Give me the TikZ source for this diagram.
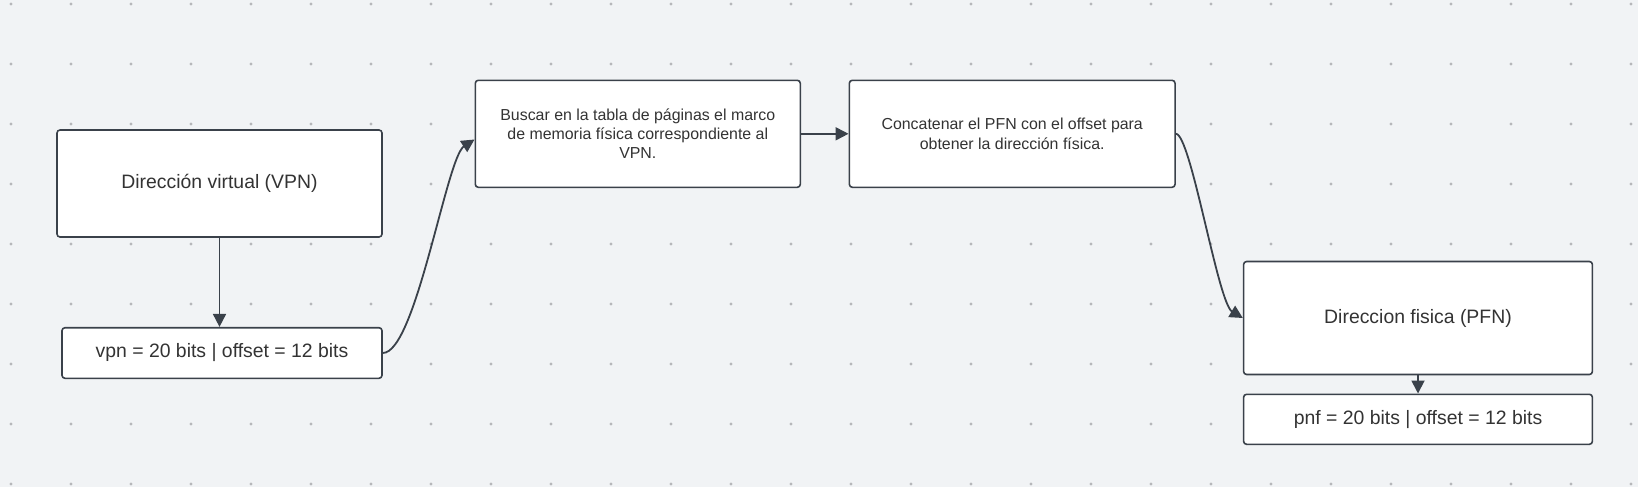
\documentclass[tikz,border=0pt]{standalone}
\usepackage{fontspec}
\setmainfont{Liberation Sans}
\usetikzlibrary{arrows.meta}
\usepackage{xcolor}
\definecolor{canvas}{RGB}{241,243,245}
\definecolor{griddot}{RGB}{182,183,186}
\definecolor{edgegray}{RGB}{58,65,74}
\definecolor{inkgray}{RGB}{51,51,51}

\begin{document}
\begin{tikzpicture}[
        x=1pt, y=-1pt,
        line join=round,
        bigwhitenode/.style={shape=rectangle, rounded corners=3pt, fill=white, draw=edgegray, line width=1.6pt, text=inkgray, inner sep=0pt, font=\fontsize{19.4pt}{23pt}\selectfont},
        smallwhitenode/.style={shape=rectangle, rounded corners=3pt, fill=white, draw=edgegray, line width=1.6pt, text=inkgray, inner sep=0pt, align=center, font=\fontsize{15.9pt}{19.3pt}\selectfont},
        link/.style={draw=edgegray, line width=1.8pt, -{Triangle[length=13pt, width=13pt]}}
    ]
        % Background
        \fill[canvas] (0, 0) rectangle (1638, 487);
        \useasboundingbox (0, 0) rectangle (1638, 487);
        % Grid dots
        \foreach \i in {0,...,27} {
            \foreach \j in {0,...,8} {
                \fill[griddot] (11+60*\i, 4+60*\j) circle (1.7pt);
            }
        }
        % Boxes
        \node[bigwhitenode, minimum width=325pt, minimum height=107pt] (virtaddr) at (219.5, 183.5) {Dirección virtual (VPN)};
        \node[bigwhitenode, minimum width=320pt, minimum height=50.6pt] (vpnfield) at (222, 353) {vpn = 20 bits | offset = 12 bits};
        \node[smallwhitenode, minimum width=325pt, minimum height=107pt] (lookup) at (637.8, 133.8) {Buscar en la tabla de páginas el marco\\de memoria física correspondiente al\\VPN.};
        \node[smallwhitenode, minimum width=325.7pt, minimum height=107pt] (concat) at (1012.2, 133.8) {Concatenar el PFN con el offset para\\obtener la dirección física.};
        \node[bigwhitenode, minimum width=348.8pt, minimum height=113pt] (physaddr) at (1418, 318) {Direccion fisica (PFN)};
        \node[bigwhitenode, minimum width=348.8pt, minimum height=50pt] (pnffield) at (1418, 419.3) {pnf = 20 bits | offset = 12 bits};
        % Arrows
        \draw[link] (virtaddr.south) -- (virtaddr.south |- vpnfield.north);
        \draw[link] (vpnfield.east) .. controls +(33, 0) and +(-28, 18) .. (lookup.182);
        \draw[link] (lookup.east |- concat.east) -- (concat.west);
        \draw[link] (concat.east) .. controls +(15, 0) and +(-25, -15) .. (physaddr.west);
        \draw[link] (physaddr.south) -- (pnffield.north);
    \end{tikzpicture}
\end{document}
